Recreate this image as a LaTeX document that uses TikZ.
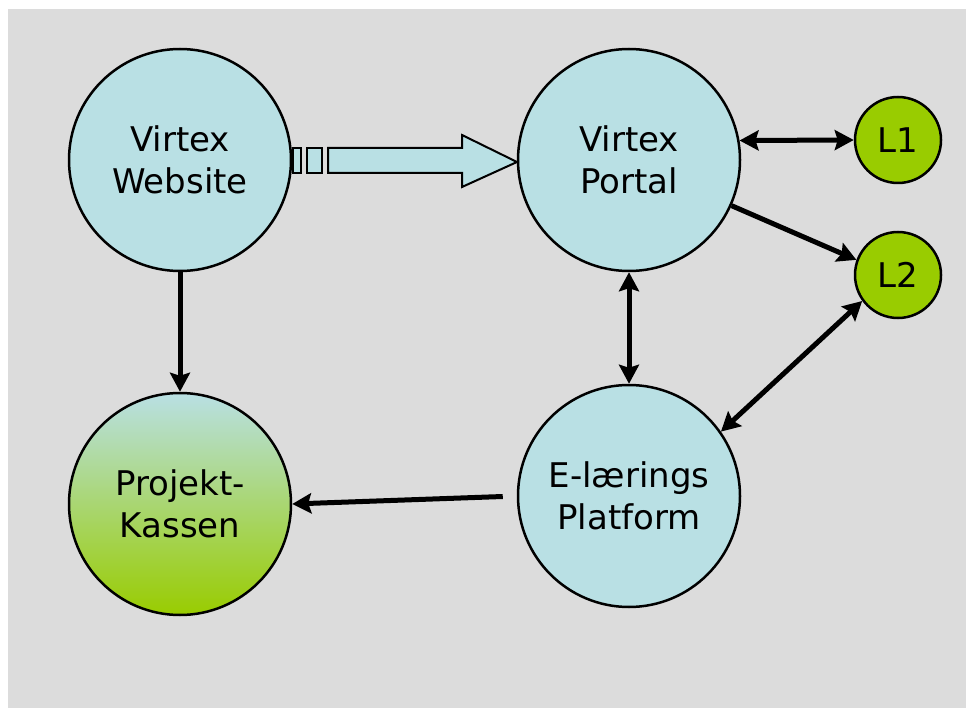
\documentclass[tikz,border=0pt]{standalone}
\usepackage{fontspec}
\setmainfont{DejaVu Sans}
\usetikzlibrary{positioning, arrows.meta, calc}
\definecolor{bgray}{RGB}{220,220,220}
\definecolor{lblue}{RGB}{185,224,228}
\definecolor{lgreen}{RGB}{153,204,0}
\tikzset{
  bubble/.style={
    draw,
    circle,
    line width=2.5pt,
    minimum size=222pt,
    inner sep=0pt,
    align=center,
    fill=lblue,
    font=\fontsize{34}{42}\selectfont
  },
  smallbubble/.style={
    bubble,
    minimum size=86pt,
    fill=lgreen
  },
  conn/.style={
    line width=5pt,
    -{Stealth[length=19pt,width=20pt,inset=3pt]}
  },
  biconn/.style={
    conn,
    {Stealth[length=19pt,width=20pt,inset=3pt]}-{Stealth[length=19pt,width=20pt,inset=3pt]}
  }
}

\begin{document}
\begin{tikzpicture}[x=1pt, y=-1pt]
        \useasboundingbox (0,0) rectangle (968,708);
        \fill[white] (0,0) rectangle (968,708);
        \fill[bgray] (8,9) rectangle (966,708);

        \node[bubble] (web) at (180,160) {Virtex\\Website};
        \node[bubble, right=224.5pt of web] (portal) {Virtex\\Portal};
        \node[bubble, below=119.5pt of web, top color=lblue, bottom color=lgreen] (kassen) {Projekt-\\Kassen};
        \node[bubble, below=111.5pt of portal] (plat) {E-lærings\\Platform};

        \node[smallbubble] (l1) at (898,140) {L1};
        \node[smallbubble, below=46.5pt of l1] (l2) {L2};

        % fat arrow
        \begin{scope}[draw=black, line width=2pt, fill=lblue, line join=miter]
          \filldraw (293,148) rectangle (301,173);
          \filldraw (307,148) rectangle (322,173);
          \filldraw (328,148) -- (462,148) -- (462,135) -- (517,162)
                    -- (462,187) -- (462,173) -- (328,173) -- cycle;
        \end{scope}

        \draw[conn] (web.south) -- (kassen.north);
        \draw[conn, shorten <=14pt] (plat.180) -- (kassen.0);
        \draw[biconn] (portal.south) -- (plat.north);
        \draw[biconn] (portal.10) -- (l1.west);
        \draw[conn] (portal.-24) -- (l2.160);
        \draw[biconn] (l2.216) -- (plat.35);
      \end{tikzpicture}
\end{document}
